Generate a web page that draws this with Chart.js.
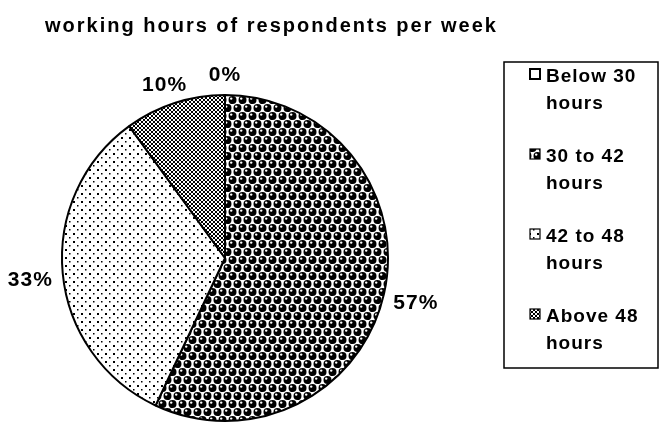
<!DOCTYPE html>
<html>
<head>
<meta charset="utf-8">
<script src="https://cdn.jsdelivr.net/npm/chart.js@4/dist/chart.umd.min.js"></script>
<style>
  html, body { margin: 0; padding: 0; background: #fff; }
  #wrap { width: 661px; height: 428px; }
</style>
</head>
<body>
<div id="wrap"><canvas id="pie" width="661" height="428"></canvas></div>
<script>
const categories = ['Below 30 hours', '30 to 42 hours', '42 to 48 hours', 'Above 48 hours'];
const legendLines = [['Below 30', 'hours'], ['30 to 42', 'hours'], ['42 to 48', 'hours'], ['Above 48', 'hours']];
const shares = [0, 57, 33, 10];
const percentLabels = ['0%', '57%', '33%', '10%'];
const chartTitle = 'working hours of respondents per week';

const FONT = '"Liberation Sans", Arial, sans-serif';

function makeTile(w, h, draw) {
    const c = document.createElement('canvas');
    c.width = w;
    c.height = h;
    const g = c.getContext('2d');
    g.fillStyle = '#fff';
    g.fillRect(0, 0, w, h);
    g.fillStyle = '#000';
    draw(g, w, h);
    return c;
}

// black balls with a white shine
function balls(g, w, h) {
    const centres = [[2.5, 4], [7.5, 12]];
    centres.forEach(([x, y]) => {
        for (let ox = -w; ox <= w; ox += w) {
            for (let oy = -h; oy <= h; oy += h) {
                g.fillStyle = '#000';
                g.beginPath();
                g.arc(x + ox, y + oy, 4, 0, Math.PI * 2);
                g.fill();
                g.fillStyle = '#fff';
                g.beginPath();
                g.arc(x + ox - 1.3, y + oy - 1.4, 1.2, 0, Math.PI * 2);
                g.fill();
            }
        }
    });
}

function dots(g) {
    g.fillRect(1, 1, 2, 2);
    g.fillRect(5, 5, 1.5, 1.5);
}

function hatch(g) {
    for (let i = 0; i < 4; i++) {
        g.fillRect(i, i, 1, 1);
        g.fillRect(3 - i, i, 1, 1);
    }
}

const ctx = document.getElementById('pie');
const g0 = ctx.getContext('2d');
const tiles = [
    makeTile(4, 4, () => {}),
    makeTile(10, 16, balls),
    makeTile(8, 8, dots),
    makeTile(4, 4, hatch)
];
const fills = tiles.map(t => g0.createPattern(t, 'repeat'));

const overlay = {
    id: 'overlay',
    afterDraw(chart) {
        const c = chart.ctx;
        c.save();
        c.fillStyle = '#000';

        // title
        c.font = 'bold 20px ' + FONT;
        c.letterSpacing = '2px';
        c.textAlign = 'left';
        c.textBaseline = 'alphabetic';
        c.fillText(chartTitle, 45, 32);

        // percent labels outside the slices
        c.font = 'bold 21px ' + FONT;
        c.letterSpacing = '1px';
        c.textAlign = 'center';
        c.textBaseline = 'middle';
        const arcs = chart.getDatasetMeta(0).data;
        arcs.forEach((arc, i) => {
            const mid = (arc.startAngle + arc.endAngle) / 2;
            const dx = Math.cos(mid), dy = Math.sin(mid);
            const r = arc.outerRadius + 10;
            const w = c.measureText(percentLabels[i]).width;
            const x = arc.x + dx * r + dx * w / 2;
            const y = arc.y + dy * r + dy * 10 + 5 * Math.abs(dx);
            c.fillText(percentLabels[i], x, y);
        });

        // legend box
        c.lineWidth = 1.5;
        c.strokeStyle = '#000';
        c.strokeRect(504, 62, 154, 306);
        c.font = 'bold 19px ' + FONT;
        c.letterSpacing = '1px';
        c.textAlign = 'left';
        c.textBaseline = 'alphabetic';
        legendLines.forEach((lines, i) => {
            const base = 82 + i * 80;
            c.fillStyle = fills[i];
            c.fillRect(530, base - 13, 10, 10);
            c.lineWidth = i === 0 ? 2 : 1.2;
            c.strokeRect(530, base - 13, 10, 10);
            c.fillStyle = '#000';
            lines.forEach((t, j) => c.fillText(t, 546, base + j * 27));
        });
        c.restore();
    }
};

new Chart(ctx, {
    type: 'pie',
    data: {
        labels: categories,
        datasets: [{
            data: shares,
            backgroundColor: fills,
            borderColor: '#000',
            borderWidth: 2
        }]
    },
    options: {
        responsive: false,
        animation: false,
        layout: {
            padding: { left: 61, right: 272, top: 94, bottom: 6 }
        },
        plugins: {
            legend: { display: false },
            title: { display: false },
            tooltip: { enabled: false }
        }
    },
    plugins: [overlay]
});
</script>
</body>
</html>
